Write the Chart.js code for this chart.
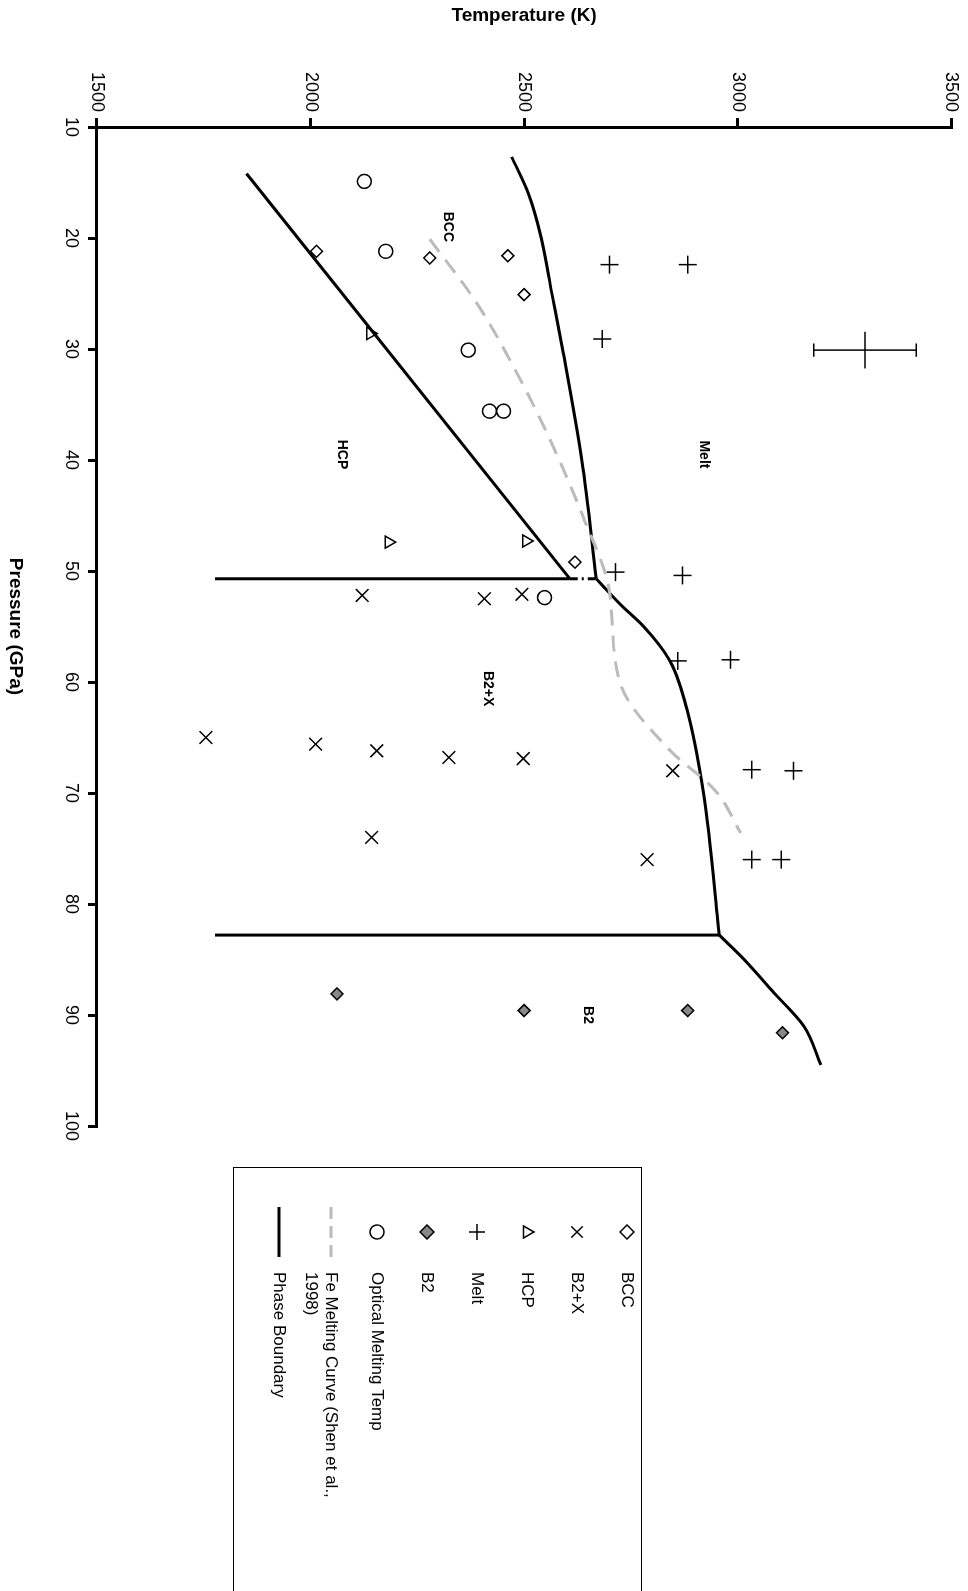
<!DOCTYPE html>
<html>
<head>
<meta charset="utf-8">
<script src="https://cdn.jsdelivr.net/npm/chart.js@4"></script>
<style>
  body { margin: 0; width: 968px; height: 1591px; overflow: hidden; background: #fff; }
  #wrap { position: absolute; left: 0; top: 0; width: 1591px; height: 968px;
          transform-origin: 0 0; transform: translate(968px, 0) rotate(90deg); }
</style>
</head>
<body>
<div id="wrap"><canvas id="c" width="1591" height="968"></canvas></div>
<script>
// pressure (GPa) / temperature (K) pairs
const bccP = [21.2, 21.8, 21.6, 25.1, 49.2];
const bccT = [2014, 2279, 2462, 2500, 2619];
const b2xP = [52.2, 52.5, 52.1, 65.0, 65.6, 66.2, 66.8, 66.9, 68.0, 74.0, 76.0];
const b2xT = [2121, 2407, 2495, 1755, 2012, 2155, 2324, 2498, 2848, 2143, 2788];
const hcpP = [28.6, 47.4, 47.3];
const hcpT = [2140, 2183, 2505];
const meltP = [22.4, 22.4, 29.1, 50.1, 50.4, 58.1, 58.0, 67.9, 68.0, 76.0, 76.0];
const meltT = [2700, 2883, 2683, 2714, 2871, 2860, 2983, 3033, 3131, 3033, 3102];
const b2P = [88.1, 89.6, 89.6, 91.6];
const b2T = [2062, 2500, 2883, 3105];
const optP = [14.9, 21.2, 30.1, 35.6, 35.6, 52.4];
const optT = [2126, 2176, 2369, 2419, 2452, 2548];
const feP = [20.1, 25.8, 31.3, 37.7, 45.1, 51.5, 60.2, 66.1, 69.8, 73.6];
const feT = [2279, 2388, 2471, 2555, 2638, 2698, 2726, 2840, 2948, 3007];
const meltLineP = [12.7, 16.0, 20.0, 25.0, 30.0, 40.0, 50.7];
const meltLineT = [2471, 2510, 2540, 2565, 2590, 2635, 2669];
const meltLine2P = [50.7, 53.0, 55.0, 58.0, 62.0, 70.0, 82.8];
const meltLine2T = [2669, 2725, 2780, 2840, 2878, 2920, 2957];
const meltLine3P = [82.8, 85.0, 88.0, 91.0, 94.5];
const meltLine3T = [2957, 3015, 3085, 3155, 3195];
const hcpLineP = [14.2, 50.7];
const hcpLineT = [1850, 2607];
const vert1P = [50.7, 50.7];
const vert1T = [1776, 2607];
const vert1DashT = [2607, 2669];
const vert2P = [82.8, 82.8];
const vert2T = [1776, 2957];
const errP = 30.1, errT = 3298, errDT = 120, errDP = 1.65, capDP = 0.6;
const pTicks = [10, 20, 30, 40, 50, 60, 70, 80, 90, 100];
const tTicks = [1500, 2000, 2500, 3000, 3500];

const pts = (ps, ts) => ps.map((p, i) => ({ x: p, y: ts[i] }));

function marker(label, data, style, r, fill) {
  return { label, data, showLine: false, pointStyle: style, pointRadius: r,
           pointBackgroundColor: fill, pointBorderColor: '#000', pointBorderWidth: 1.5 };
}
function line(data, color, dash, w, smooth) {
  return { data, showLine: true, pointRadius: 0, borderColor: color, borderWidth: w || 3,
           borderDash: dash || [], tension: smooth ? 0.4 : 0,
           cubicInterpolationMode: smooth ? 'monotone' : 'default', fill: false };
}

const errSegs = [
  [{ x: errP, y: errT - errDT }, { x: errP, y: errT + errDT }],
  [{ x: errP - capDP, y: errT - errDT }, { x: errP + capDP, y: errT - errDT }],
  [{ x: errP - capDP, y: errT + errDT }, { x: errP + capDP, y: errT + errDT }],
  [{ x: errP - errDP, y: errT }, { x: errP + errDP, y: errT }]
];

const regionLabels = [
  { t: 'BCC', p: 19.0, T: 2321 }, { t: 'HCP', p: 39.5, T: 2074 },
  { t: 'Melt', p: 39.5, T: 2921 }, { t: 'B2+X', p: 60.6, T: 2415 },
  { t: 'B2', p: 90.0, T: 2650 }
];

const legendItems = [
  { t: ['BCC'], kind: 'rectRot', fill: '#fff' },
  { t: ['B2+X'], kind: 'crossRot' },
  { t: ['HCP'], kind: 'triangle', fill: '#fff' },
  { t: ['Melt'], kind: 'cross' },
  { t: ['B2'], kind: 'rectRot', fill: '#888' },
  { t: ['Optical Melting Temp'], kind: 'circle', fill: '#fff' },
  { t: ['Fe Melting Curve (Shen et al.,', '1998)'], kind: 'dash' },
  { t: ['Phase Boundary'], kind: 'solid' }
];
const legendY = [341, 391, 441, 491, 541, 591, 637, 689];

const extras = {
  id: 'extras',
  afterDraw(chart) {
    const ctx = chart.ctx, xs = chart.scales.x, ys = chart.scales.y;
    ctx.save();
    ctx.fillStyle = '#000';
    ctx.font = 'bold 14px Arial';
    ctx.textAlign = 'center';
    ctx.textBaseline = 'middle';
    regionLabels.forEach(l => ctx.fillText(l.t, xs.getPixelForValue(l.p), ys.getPixelForValue(l.T)));
    // legend box
    ctx.strokeStyle = '#000';
    ctx.lineWidth = 1;
    ctx.strokeRect(1167.5, 326.5, 460, 408);
    ctx.font = '17px Arial';
    ctx.textAlign = 'left';
    legendItems.forEach((it, i) => {
      const y = legendY[i], x = 1232;
      if (it.kind === 'dash' || it.kind === 'solid') {
        ctx.strokeStyle = it.kind === 'dash' ? '#bbb' : '#000';
        ctx.lineWidth = 3;
        ctx.setLineDash(it.kind === 'dash' ? [12, 7] : []);
        ctx.beginPath(); ctx.moveTo(x - 25, y); ctx.lineTo(x + 25, y); ctx.stroke();
        ctx.setLineDash([]);
      } else {
        ctx.strokeStyle = '#000';
        ctx.fillStyle = it.fill || '#fff';
        ctx.lineWidth = 1.5;
        Chart.helpers.drawPoint(ctx, { pointStyle: it.kind, radius: it.kind.startsWith('cross') ? 8 : 7, rotation: 0, borderWidth: 1.5 }, x, y);
      }
      ctx.fillStyle = '#000';
      it.t.forEach((s, j) => ctx.fillText(s, 1272, y + j * 20));
    });
    ctx.restore();
  }
};

new Chart(document.getElementById('c'), {
  type: 'scatter',
  data: {
    datasets: [
      line(pts(feP, feT), '#bbb', [16, 10], 3, true),
      line(pts(meltLineP, meltLineT), '#000', [], 3, true),
      line(pts(meltLine2P, meltLine2T), '#000', [], 3, true),
      line(pts(meltLine3P, meltLine3T), '#000', [], 3, true),
      line(pts(hcpLineP, hcpLineT), '#000'),
      line(pts(vert1P, vert1T), '#000'),
      line(pts(vert1P, vert1DashT), '#000', [8, 4, 2, 4]),
      line(pts(vert2P, vert2T), '#000'),
      ...errSegs.map(s => line(s, '#000', [], 1.5)),
      marker('BCC', pts(bccP, bccT), 'rectRot', 6, '#fff'),
      marker('B2+X', pts(b2xP, b2xT), 'crossRot', 9, '#000'),
      marker('HCP', pts(hcpP, hcpT), 'triangle', 7, '#fff'),
      marker('Melt', pts(meltP, meltT), 'cross', 9, '#000'),
      marker('B2', pts(b2P, b2T), 'rectRot', 6, '#888'),
      marker('Optical Melting Temp', pts(optP, optT), 'circle', 7, '#fff')
    ]
  },
  options: {
    responsive: false,
    animation: false,
    devicePixelRatio: 1,
    layout: { padding: { top: 16, right: 465, left: 0, bottom: 0 } },
    plugins: { legend: { display: false }, tooltip: { enabled: false } },
    scales: {
      x: {
        type: 'linear', min: 10, max: 100,
        afterBuildTicks: s => { s.ticks = pTicks.map(v => ({ value: v })); },
        afterFit: s => { s.height = 97; },
        ticks: { color: '#000', font: { size: 18, family: 'Arial' }, maxRotation: 0, padding: 6,
                 callback: v => String(v) },
        grid: { drawOnChartArea: false, drawTicks: true, tickLength: 9, color: '#000', lineWidth: 3 },
        border: { color: '#000', width: 3 },
        title: { display: true, text: 'Pressure (GPa)', color: '#000', font: { size: 19, weight: 'bold', family: 'Arial' } }
      },
      y: {
        type: 'linear', min: 1500, max: 3500,
        afterBuildTicks: s => { s.ticks = tTicks.map(v => ({ value: v })); },
        afterFit: s => { s.width = 127; },
        ticks: { color: '#000', font: { size: 18, family: 'Arial' }, padding: 6,
                 callback: v => String(v) },
        grid: { drawOnChartArea: false, drawTicks: true, tickLength: 9, color: '#000', lineWidth: 3 },
        border: { color: '#000', width: 3 },
        title: { display: true, text: 'Temperature (K)', color: '#000', font: { size: 19, weight: 'bold', family: 'Arial' } }
      }
    }
  },
  plugins: [extras]
});
</script>
</body>
</html>
